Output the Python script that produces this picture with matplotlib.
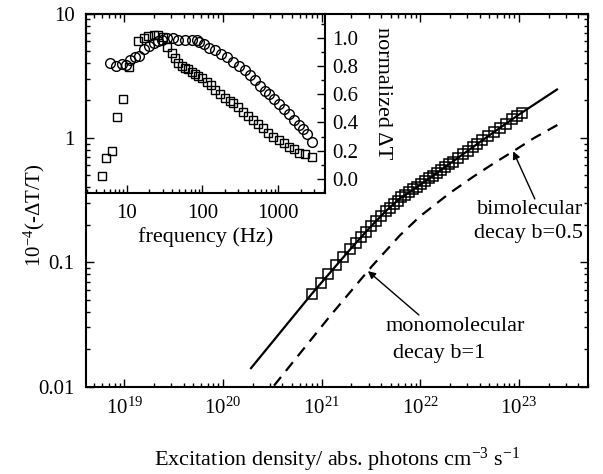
import numpy as np
import matplotlib
matplotlib.use("Agg")
import matplotlib.pyplot as plt
from matplotlib.ticker import LogLocator, NullFormatter, FuncFormatter, MultipleLocator

plt.rcParams['font.family'] = ['Liberation Serif', 'DejaVu Serif']
plt.rcParams['mathtext.fontset'] = 'custom'
plt.rcParams['mathtext.rm'] = 'Liberation Serif'
plt.rcParams['font.size'] = 16

# --- main panel: signal vs excitation density ---
exc_meas = [7.94e20, 9.77e20, 1.17e21, 1.41e21, 1.66e21, 1.95e21, 2.24e21, 2.51e21,
            2.82e21, 3.16e21, 3.55e21, 3.98e21, 4.47e21, 4.90e21, 5.37e21, 5.89e21,
            6.46e21, 7.08e21, 7.76e21, 8.51e21, 9.33e21, 1.02e22, 1.12e22, 1.23e22,
            1.35e22, 1.48e22, 1.62e22, 1.78e22, 1.95e22, 2.14e22, 2.40e22, 2.69e22,
            3.02e22, 3.39e22, 3.80e22, 4.27e22, 4.90e22, 5.62e22, 6.46e22, 7.41e22,
            8.51e22, 9.55e22, 1.07e23]
sig_meas = [0.056, 0.0678, 0.0803, 0.0951, 0.110, 0.127, 0.1435, 0.159,
            0.176, 0.194, 0.213, 0.234, 0.257, 0.275, 0.294, 0.313,
            0.333, 0.349, 0.366, 0.385, 0.405, 0.425, 0.448, 0.472,
            0.497, 0.524, 0.552, 0.581, 0.612, 0.645, 0.689, 0.736,
            0.787, 0.840, 0.897, 0.957, 1.035, 1.117, 1.207, 1.303,
            1.409, 1.503, 1.60]

exc_fit = [1.93e20, 8e20, 2e21, 3.1e21, 4.57e21, 6.2e21, 1e22, 2e22, 3e22, 5e22,
           1e23, 2.43e23]
sig_fit = [0.0141, 0.056, 0.13, 0.191, 0.262, 0.325, 0.42, 0.621, 0.783, 1.047,
           1.54, 2.45]

exc_model = [3.3e20, 1.22e21, 3.24e21, 6.24e21, 1e22, 2e22, 3.44e22, 5.5e22,
             8.75e22, 1.40e23, 2.63e23]
sig_model = [0.0102, 0.037, 0.093, 0.165, 0.235, 0.361, 0.487, 0.621,
             0.78, 0.99, 1.31]

# --- inset: normalized signal vs modulation frequency ---
freq_sq = [4.7, 5.4, 6.4, 7.6, 9.1, 10.9, 14.3, 17.0, 19.4, 23.1, 26.3, 30.6, 34.6,
           39.5, 43.7, 48.3, 53.6, 59.3, 65.5, 72.6, 80.3, 88.8, 98.4, 115, 129,
           148, 172, 200, 230, 257, 300, 349, 406, 473, 551, 641, 747, 871, 1035,
           1205, 1416, 1633, 1920, 2280, 2800]
norm_sq = [0.023, 0.146, 0.20, 0.436, 0.565, 0.794, 0.975, 1.0, 1.01, 1.02, 1.02, 1.005,
           0.935, 0.893, 0.853, 0.822, 0.801, 0.787, 0.775, 0.758, 0.742, 0.728, 0.712,
           0.688, 0.664, 0.629, 0.60, 0.575, 0.555, 0.538, 0.511, 0.476, 0.445, 0.417,
           0.389, 0.358, 0.327, 0.299, 0.276, 0.252, 0.228, 0.21, 0.186, 0.177, 0.153]

freq_ci = [6.05, 7.26, 8.63, 9.84, 11.1, 12.9, 14.8, 17.0, 20.0, 23.1, 26.3, 29.2,
           34.0, 40.8, 48.3, 59.3, 72.6, 84.5, 91.6, 106, 124, 148, 175, 211, 258,
           309, 367, 428, 499, 581, 676, 771, 889, 1045, 1205, 1390, 1633, 1884,
           2168, 2449, 2800]
norm_ci = [0.822, 0.799, 0.815, 0.804, 0.841, 0.86, 0.869, 0.923, 0.942, 0.959, 0.975,
           0.987, 0.999, 0.995, 0.987, 0.987, 0.987, 0.982, 0.97, 0.954, 0.93, 0.912,
           0.883, 0.86, 0.829, 0.799, 0.77, 0.735, 0.70, 0.657, 0.624, 0.601, 0.565,
           0.53, 0.495, 0.459, 0.417, 0.382, 0.351, 0.316, 0.264]


def style_axes(a):
    for s in a.spines.values():
        s.set_linewidth(1.5)
    a.tick_params(which='major', direction='in', length=5.5, width=1.0, labelsize=15)
    a.tick_params(which='minor', direction='in', length=3, width=1.0)


fig = plt.figure(figsize=(6.03, 4.74), dpi=100)
ax = fig.add_axes([0.1421, 0.1842, 0.833, 0.7873])

ax.plot(exc_fit, sig_fit, '-', color='black', lw=1.6, zorder=2)
ax.plot(exc_model, sig_model, '--', color='black', lw=1.6, dashes=(5, 3.5), zorder=2)
ax.plot(exc_meas, sig_meas, 's', ms=7.5, mfc='none', mec='black', mew=1.1, zorder=3)

ax.set_xscale('log')
ax.set_yscale('log')
ax.set_xlim(10**18.61, 10**23.70)
ax.set_ylim(0.01, 10)
style_axes(ax)
ax.tick_params(which='both', top=True, right=True)
ax.tick_params(axis='both', which='major', pad=8)
ax.xaxis.set_major_locator(LogLocator(base=10, numticks=20))
ax.xaxis.set_minor_locator(LogLocator(base=10, subs=np.arange(2, 10), numticks=20))
ax.xaxis.set_minor_formatter(NullFormatter())
ax.xaxis.set_major_formatter(FuncFormatter(
    lambda v, p: r'$\mathregular{10^{%d}}$' % round(np.log10(v))))
ax.yaxis.set_minor_locator(LogLocator(base=10, subs=np.arange(2, 10), numticks=20))
ax.yaxis.set_minor_formatter(NullFormatter())
ax.yaxis.set_major_formatter(FuncFormatter(lambda v, p: '%g' % v))

ax.set_xlabel(r'Excitation density/ abs. photons cm$\mathregular{^{-3}}$ s$\mathregular{^{-1}}$',
              labelpad=19)
ax.set_ylabel(r'$\mathregular{10^{-4}}$(-ΔT/T)', fontsize=15)
ax.yaxis.set_label_coords(-0.077, 0.46)

arrow = dict(arrowstyle='-|>', color='black', lw=1.0, mutation_scale=11,
             shrinkA=0, shrinkB=0)
ax.annotate('', xy=(8.75e22, 0.78), xytext=(1.45e23, 0.323), arrowprops=arrow)
ax.text(0.99, 0.4735, 'bimolecular', transform=ax.transAxes, ha='right', va='center')
ax.text(0.99, 0.4116, 'decay b=0.5', transform=ax.transAxes, ha='right', va='center')

ax.annotate('', xy=(2.95e21, 0.085), xytext=(9.7e21, 0.0377), arrowprops=arrow)
ax.text(0.596, 0.160, 'monomolecular', transform=ax.transAxes, ha='left', va='center')
ax.text(0.612, 0.088, 'decay b=1', transform=ax.transAxes, ha='left', va='center')

# --- inset ---
ins = fig.add_axes([0.1421, 0.5935, 0.3968, 0.378])
ins.patch.set_alpha(0)
ins.plot(freq_sq, norm_sq, 's', ms=6, mfc='none', mec='black', mew=1.0)
ins.plot(freq_ci, norm_ci, 'o', ms=7, mfc='none', mec='black', mew=1.0)
ins.set_xscale('log')
ins.set_xlim(10**0.461, 10**3.62)
ins.set_ylim(-0.097, 1.171)
style_axes(ins)
ins.tick_params(which='both', left=False, labelleft=False, right=True, labelright=True,
                top=False)
ins.tick_params(axis='x', which='major', pad=8)
ins.tick_params(axis='y', which='major', pad=5)
ins.xaxis.set_major_locator(LogLocator(base=10, numticks=10))
ins.xaxis.set_minor_locator(LogLocator(base=10, subs=np.arange(2, 10), numticks=10))
ins.xaxis.set_minor_formatter(NullFormatter())
ins.xaxis.set_major_formatter(FuncFormatter(lambda v, p: '%d' % v))
ins.yaxis.set_major_locator(MultipleLocator(0.2))
ins.yaxis.set_minor_locator(MultipleLocator(0.1))
ins.yaxis.set_major_formatter(FuncFormatter(lambda v, p: '%.1f' % abs(v)))
ins.set_xlabel('frequency (Hz)', labelpad=3)
ins.text(1.242, 0.556, 'normalized ΔT', transform=ins.transAxes, rotation=270,
         ha='center', va='center')

fig.savefig('out.png', dpi=100)
